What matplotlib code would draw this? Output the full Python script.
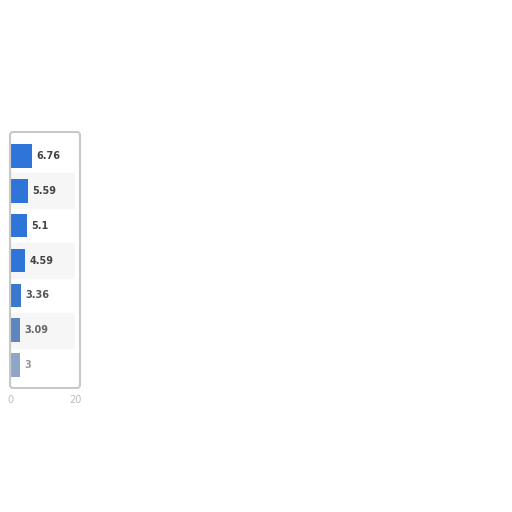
import matplotlib.pyplot as plt
from matplotlib.patches import FancyBboxPatch

values = [6.76, 5.59, 5.1, 4.59, 3.36, 3.09, 3]
labels = ['6.76', '5.59', '5.1', '4.59', '3.36', '3.09', '3']
bar_colors = ['#2f74d8', '#2f74d8', '#2f74d8', '#2f74d8', '#3a78d0', '#5d86c0', '#8ea6c8']
text_colors = ['#444444', '#444444', '#444444', '#444444', '#555555', '#666666', '#999999']

fig = plt.figure(figsize=(5.12, 5.12), dpi=100)
ax = fig.add_axes([10 / 512, 1 - 382.5 / 512, 65 / 512, 244 / 512])

n = len(values)
y = list(range(n))
# alternating row stripes
for i in y:
    if i % 2 == 1:
        ax.axhspan(i - 0.5, i + 0.5, color='#f6f6f6', zorder=0)
ax.barh(y, values, height=0.68, color=bar_colors, zorder=2)
for i, v in enumerate(values):
    ax.text(v + 1.3, i, labels[i], va='center', ha='left', fontsize=7,
            fontweight='bold', color=text_colors[i], zorder=3)

ax.set_xlim(0, 20)
ax.set_ylim(n - 0.5, -0.5)
ax.set_yticks([])
ax.set_xticks([0, 20])
ax.set_xticklabels(['0', '20'], color='#bbbbbb', fontsize=7)
ax.tick_params(axis='x', length=0, pad=9)
for s in ax.spines.values():
    s.set_visible(False)
ax.spines['left'].set_visible(True)
ax.spines['left'].set_color('#cccccc')
ax.set_facecolor('white')

box = FancyBboxPatch((10 / 512, 1 - 388 / 512), 70 / 512, 256 / 512,
                     boxstyle='round,pad=0,rounding_size=0.006',
                     transform=fig.transFigure, fill=False,
                     edgecolor='#c8c8c8', linewidth=1.5)
fig.patches.append(box)

fig.savefig('out.png', dpi=100)
